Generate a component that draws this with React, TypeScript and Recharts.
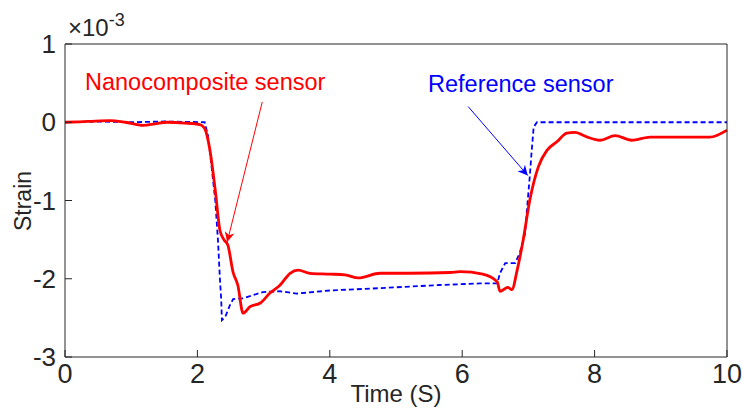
import React from 'react';
import { LineChart, Line, XAxis, YAxis, ReferenceLine } from 'recharts';

// strain values are in units of 1e-3 (axis multiplier shown top-left)
const nanoTime = [
  0, 0.35, 0.68, 0.91, 1.18, 1.36, 1.54, 1.81, 2.04, 2.11, 2.19, 2.27, 2.34, 2.4, 2.46, 2.54, 2.61, 2.69,
  2.79, 2.95, 3.1, 3.25, 3.4, 3.52, 3.7, 4.0, 4.23, 4.43, 4.76, 5.21, 5.82, 5.97, 6.31, 6.53, 6.57, 6.69,
  6.75, 6.83, 6.92, 7.02, 7.15, 7.28, 7.43, 7.58, 7.7, 7.89, 8.08, 8.31, 8.56, 8.84, 9.34, 9.74, 10,
];
const nanoStrain = [
  0, 0.01, 0.02, 0.0, -0.04, -0.02, 0.0, -0.01, -0.03, -0.08, -0.36, -0.87, -1.38, -1.5, -1.57, -1.92, -2.08, -2.44,
  -2.36, -2.31, -2.18, -2.08, -1.93, -1.89, -1.93, -1.94, -1.95, -1.99, -1.93, -1.93, -1.92, -1.91, -1.94, -2.04, -2.16, -2.11,
  -2.14, -1.89, -1.51, -1.0, -0.57, -0.36, -0.25, -0.14, -0.13, -0.19, -0.23, -0.17, -0.23, -0.19, -0.19, -0.19, -0.1,
];

const refTime = [
  0, 0.5, 1.0, 1.5, 2.11, 2.16, 2.22, 2.27, 2.31, 2.34, 2.36, 2.37, 2.42, 2.49, 2.54, 2.69, 2.99, 3.25, 3.5,
  4.0, 4.76, 5.66, 6.27, 6.53, 6.57, 6.65, 6.8, 6.87, 6.95, 6.99, 7.02, 7.05, 7.08, 7.13, 8, 9, 10,
];
const refStrain = [
  0, 0.01, 0, 0.01, 0, -0.17, -0.61, -1.0, -1.5, -2.0, -2.27, -2.53, -2.49, -2.34, -2.26, -2.25, -2.17, -2.16, -2.19,
  -2.15, -2.12, -2.08, -2.06, -2.06, -1.93, -1.8, -1.8, -1.67, -1.42, -1.0, -0.7, -0.36, -0.06, 0, 0, 0, 0,
];

const xTicks = [0, 2, 4, 6, 8, 10];
const yTicks = [-3, -2, -1, 0, 1];

const nanoData = nanoTime.map((t, i) => ({ t, v: nanoStrain[i] }));
const refData = refTime.map((t, i) => ({ t, v: refStrain[i] }));

const axisColor = '#262626';
const font = 'Arial, "Liberation Sans", Helvetica, sans-serif';

export default function App() {
  return (
    <div style={{ position: 'absolute', left: 0, top: 0, width: 742, height: 419, background: '#fff', fontFamily: font }}>
      <svg width={0} height={0} style={{ position: 'absolute' }}>
        <defs>
          <marker id="arrowRed" viewBox="0 0 10 10" refX="10" refY="5" markerWidth="13" markerHeight="10" markerUnits="userSpaceOnUse" orient="auto">
            <path d="M0,0 L10,5 L0,10 L3,5 Z" fill="#ff0000" />
          </marker>
          <marker id="arrowBlue" viewBox="0 0 10 10" refX="10" refY="5" markerWidth="13" markerHeight="10" markerUnits="userSpaceOnUse" orient="auto">
            <path d="M0,0 L10,5 L0,10 L3,5 Z" fill="#0000ff" />
          </marker>
        </defs>
      </svg>
      <LineChart width={742} height={419} margin={{ top: 43, right: 14, bottom: 61, left: 64 }}>
        <XAxis
          type="number"
          dataKey="t"
          domain={[0, 10]}
          ticks={xTicks}
          height={1}
          tickSize={-7}
          tickMargin={14}
          stroke={axisColor}
          tick={{ fill: axisColor, fontSize: 27, fontFamily: font }}
        />
        <XAxis xAxisId="top" orientation="top" type="number" domain={[0, 10]} ticks={xTicks} height={1} tickSize={-7} tick={false} stroke={axisColor} />
        <YAxis
          type="number"
          domain={[-3, 1]}
          ticks={yTicks}
          width={1}
          tickSize={-7}
          tickMargin={16}
          stroke={axisColor}
          tick={{ fill: axisColor, fontSize: 26, fontFamily: font }}
        />
        <YAxis yAxisId="right" orientation="right" type="number" domain={[-3, 1]} ticks={yTicks} width={1} tickSize={-7} tick={false} stroke={axisColor} />
        <Line
          data={refData}
          dataKey="v"
          type="linear"
          stroke="#0000ff"
          strokeWidth={1.8}
          strokeDasharray="5 3"
          dot={false}
          isAnimationActive={false}
        />
        <Line
          data={nanoData}
          dataKey="v"
          type="monotone"
          stroke="#ff0000"
          strokeWidth={2.8}
          dot={false}
          isAnimationActive={false}
        />
        <ReferenceLine
          segment={[{ x: 2.98, y: 0.26 }, { x: 2.45, y: -1.53 }]}
          stroke="#ff0000"
          strokeWidth={1}
          markerEnd="url(#arrowRed)"
        />
        <ReferenceLine
          segment={[{ x: 6.09, y: 0.2 }, { x: 6.99, y: -0.68 }]}
          stroke="#0000ff"
          strokeWidth={1}
          markerEnd="url(#arrowBlue)"
        />
      </LineChart>
      <svg width={742} height={419} style={{ position: 'absolute', left: 0, top: 0, pointerEvents: 'none' }}>
        <text x={68} y={36} fill={axisColor} fontSize={24} fontFamily={font}>
          ×10
          <tspan dy={-10} fontSize={18}>-3</tspan>
        </text>
        <text x={85} y={90} fill="#ff0000" fontSize={23.5} fontFamily={font}>Nanocomposite sensor</text>
        <text x={428} y={92} fill="#0000ff" fontSize={23.5} fontFamily={font}>Reference sensor</text>
        <text x={31} y={201} fill={axisColor} fontSize={23} fontFamily={font} textAnchor="middle" transform="rotate(-90, 31, 201)">Strain</text>
        <text x={396} y={402} fill={axisColor} fontSize={24} fontFamily={font} textAnchor="middle">Time (S)</text>
      </svg>
    </div>
  );
}
